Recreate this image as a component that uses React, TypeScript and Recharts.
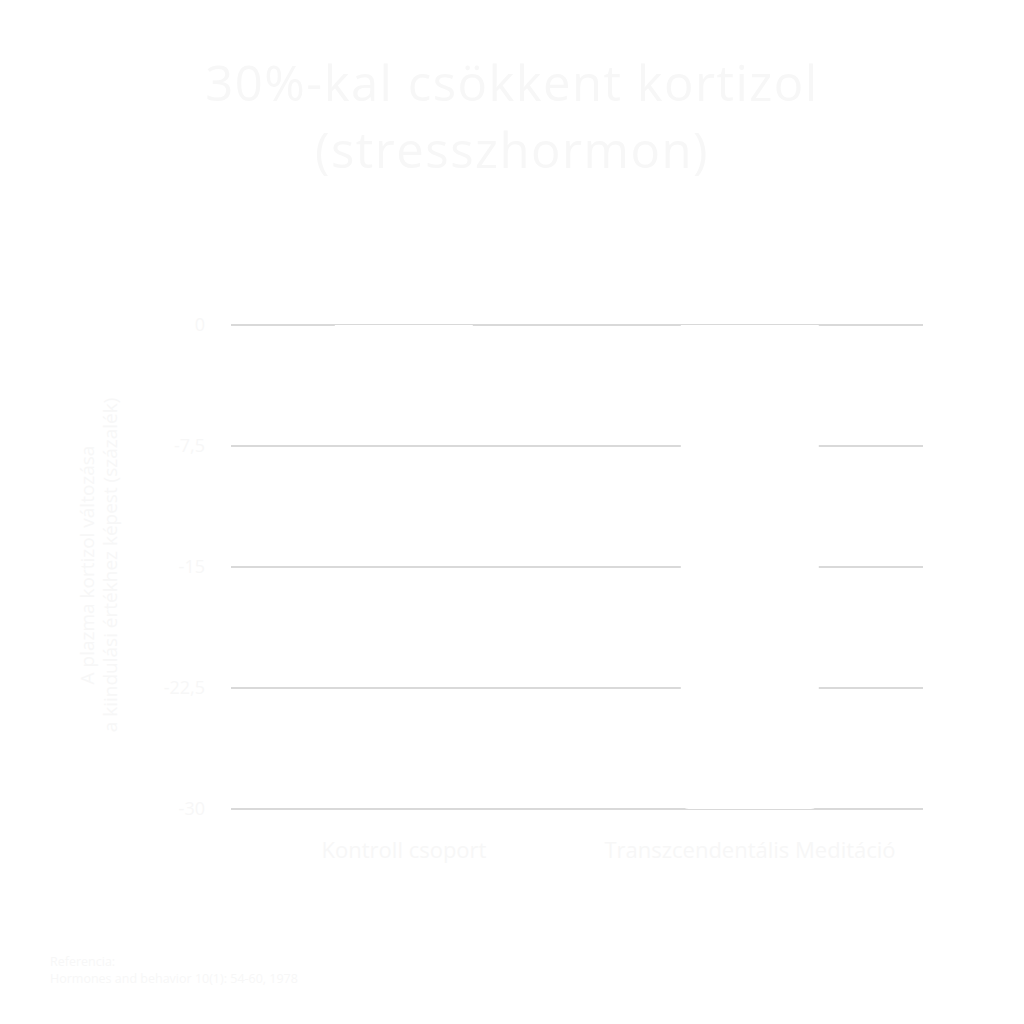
import { Bar, BarChart, CartesianGrid, XAxis, YAxis } from "recharts";

const groups = ["Kontroll csoport", "Transzcendentális Meditáció"];
const cortisolChange = [-4.4, -30];
const yTicks = [0, -7.5, -15, -22.5, -30];
const titleLines = ["30%-kal csökkent kortizol", "(stresszhormon)"];

const data = groups.map((name, i) => ({ name, change: cortisolChange[i] }));

const ink = "#f7f7f7";
const font = "'Open Sans', sans-serif";

export default function App() {
  return (
    <div
      style={{
        position: "absolute",
        left: 0,
        top: 0,
        width: 1024,
        height: 1024,
        background: "#ffffff",
        fontFamily: font,
        color: ink,
        overflow: "hidden",
      }}
    >
      {titleLines.map((line, i) => (
        <div
          key={line}
          style={{
            position: "absolute",
            top: 55 + i * 67,
            width: 1024,
            textAlign: "center",
            fontSize: 49,
            letterSpacing: 1.5,
            lineHeight: "54px",
          }}
        >
          {line}
        </div>
      ))}

      <div
        style={{
          position: "absolute",
          left: 99,
          top: 565,
          width: 440,
          transform: "translate(-50%, -50%) rotate(-90deg)",
          textAlign: "center",
          fontSize: 19,
          lineHeight: "23px",
        }}
      >
        A plazma kortizol változása
        <br />
        a kiindulási értékhez képest (százalék)
      </div>

      <div style={{ position: "absolute", left: 0, top: 0 }}>
        <BarChart
          width={1024}
          height={1024}
          data={data}
          margin={{ top: 325, right: 101, bottom: 185, left: 0 }}
          barCategoryGap="30%"
        >
          <CartesianGrid vertical={false} stroke="#b3b3b3" />
          <XAxis
            dataKey="name"
            axisLine={false}
            tickLine={false}
            tickMargin={27}
            tick={{ fill: ink, fontSize: 22, fontFamily: font }}
          />
          <YAxis
            width={231}
            domain={[-30, 0]}
            ticks={yTicks}
            axisLine={false}
            tickLine={false}
            tickMargin={20}
            tickFormatter={(v: number) => `${v}`.replace(".", ",")}
            tick={{ fill: ink, fontSize: 18, fontFamily: font }}
          />
          <Bar
            dataKey="change"
            fill="#ffffff"
            radius={[8, 8, 0, 0]}
            isAnimationActive={false}
          />
        </BarChart>
      </div>

      <div
        style={{
          position: "absolute",
          left: 50,
          top: 953,
          fontSize: 12.5,
          lineHeight: "17px",
        }}
      >
        Referencia:
        <br />
        Hormones and behavior 10(1): 54-60, 1978
      </div>
    </div>
  );
}
